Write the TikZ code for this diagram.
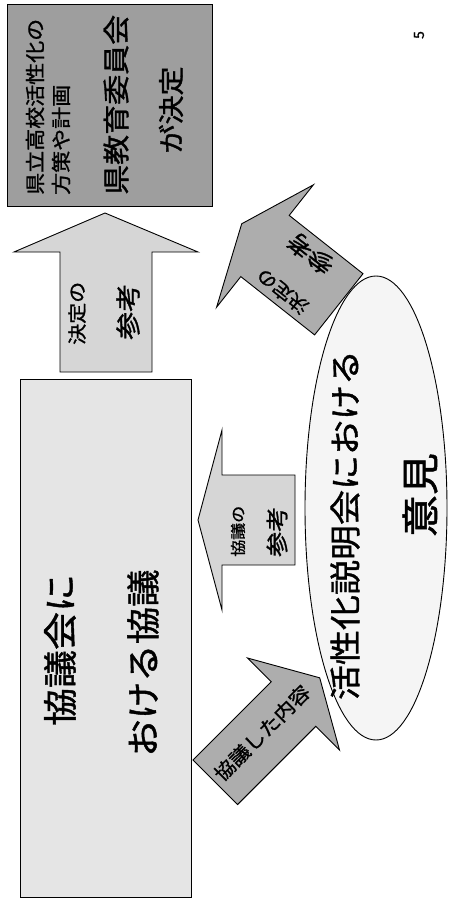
\documentclass[tikz,border=0pt]{standalone}
\usepackage{fontspec}
\usepackage{graphicx}
\newfontfamily\jp[FakeBold=1.2]{Noto Sans CJK JP}
\newcommand{\jt}[2]{{\jp\fontsize{#1}{#1}\selectfont\scalebox{1}[0.9]{#2}}}
\definecolor{topfill}{gray}{0.62}
\definecolor{darkarrow}{gray}{0.68}
\definecolor{lightarrow}{gray}{0.84}
\definecolor{bigfill}{gray}{0.90}
\definecolor{ellfill}{gray}{0.96}
\tikzset{
  shapeline/.style={draw=black, line width=0.9pt, line join=miter},
  rtext/.style={rotate=90, inner sep=0pt},
}
\begin{document}
\begin{tikzpicture}[x=1pt,y=-1pt]
\useasboundingbox (0,0) rectangle (449,899);
\fill[white] (0,0) rectangle (449,899);

% top box
\draw[shapeline, fill=topfill] (7,4) rectangle (212,206);
\node[rtext, anchor=west] (t1) at (35,195) {\jt{22}{県立高校活性化の}};
\node[rtext, anchor=west] (t2) at (61,195) {\jt{22}{方策や計画}};
\node[rtext, anchor=west] (t3) at (116,195) {\jt{30}{県教育委員会}};
\node[rtext] (t4) at (171,110) {\jt{29}{が決定}};

% big box
\draw[shapeline, fill=bigfill] (20,379) rectangle (191,897);
\node[rtext] (b1) at (60,650) {\jt{38}{協議会に}};
\node[rtext] (b2) at (143,663) {\jt{37.5}{おける協議}};

% up arrow (decision reference)
\draw[shapeline, fill=lightarrow] (105,213) -- (198,252) -- (152,252) -- (152,372)
  -- (60,372) -- (60,252) -- (14,252) -- cycle;
\node[rtext, anchor=west] (a1) at (77,345) {\jt{21}{決定の}};
\node[rtext, anchor=west] (a2) at (128,340) {\jt{28}{参考}};

% left arrow (discussion reference)
\draw[shapeline, fill=lightarrow] (198,520) -- (222,430) -- (222,475) -- (295,475)
  -- (295,565) -- (222,565) -- (222,610) -- cycle;
\node[rtext, anchor=west] (c1) at (238,557) {\jt{17}{協議の}};
\node[rtext, anchor=west] (c2) at (277,557) {\jt{25}{参考}};

% ellipse
\draw[shapeline, fill=ellfill] (376,508) ellipse [x radius=71, y radius=232];
\node[rtext] (e1) at (345,525) {\jt{35}{活性化説明会における}};
\node[rtext] (e2) at (420,495) {\jt{42}{意見}};

% diagonal arrow: discussed content
\draw[shapeline, fill=darkarrow] (319.7,677.8) -- (339.5,750) -- (315.8,726.3)
  -- (237.5,804.6) -- (192.9,760) -- (271.2,681.7) -- (247.5,658) -- cycle;
\node[rotate=45, inner sep=0pt] (d1) at (262,733) {\jt{21}{協議した内容}};

% diagonal arrow: decision reference
\draw[shapeline, fill=darkarrow] (241.7,223.8) -- (313.4,184.8) -- (289.2,215.4)
  -- (363,273.7) -- (314.6,334.9) -- (240.8,276.6) -- (216.6,307.2) -- cycle;
\node[rotate=141.7, inner sep=0pt] (f1) at (282.5,291.6) {\jt{20}{決定の}};
\node[rotate=141.7, inner sep=0pt] (f2) at (310,253.5) {\jt{26}{参考}};

% page number
\node[rtext] (pg) at (419,35) {{\jp\fontsize{14}{14}\selectfont 5}};
\end{tikzpicture}
\end{document}
